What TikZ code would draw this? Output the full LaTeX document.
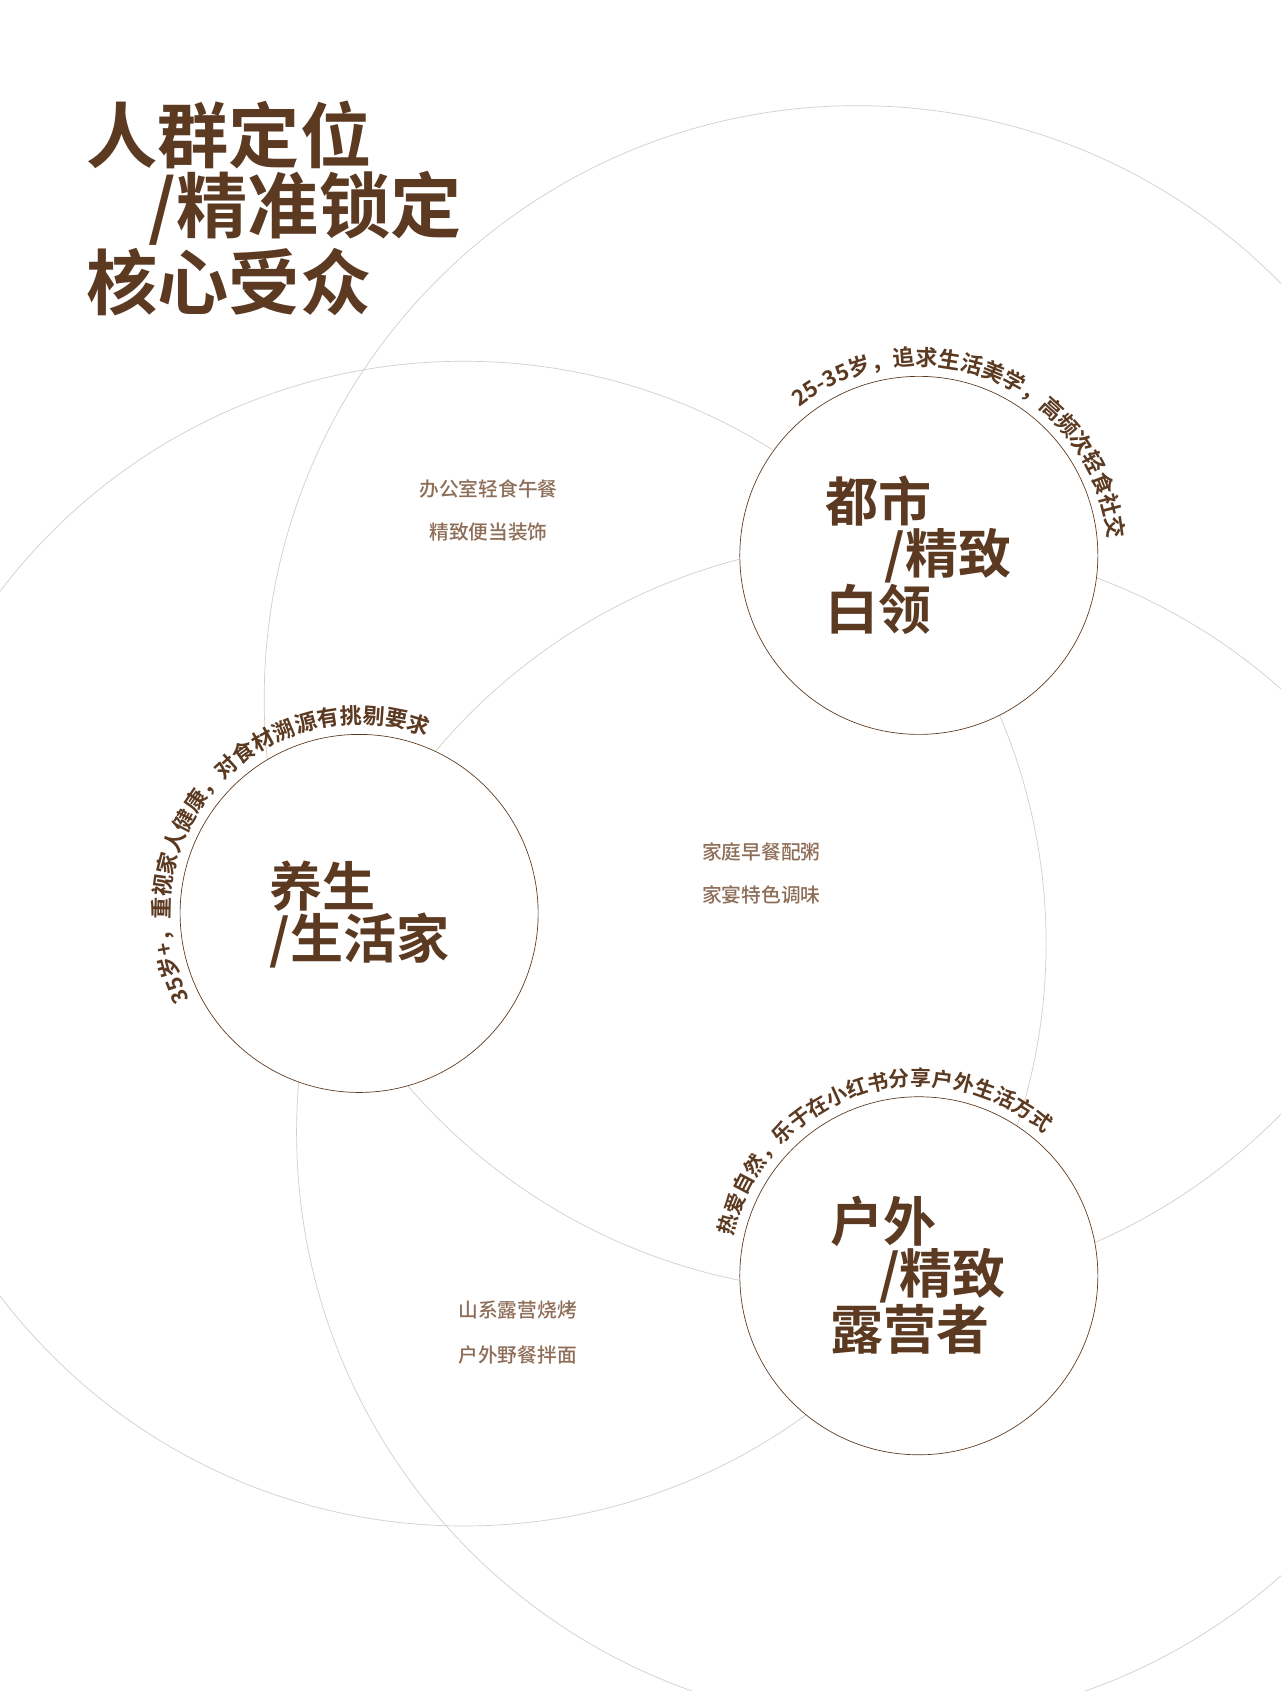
\documentclass[tikz,border=0pt]{standalone}
\usepackage{fontspec}
\newfontfamily\cjkb{Noto Sans CJK SC Bold}
\newfontfamily\cjkm{Noto Sans CJK SC Medium}
\usetikzlibrary{decorations.text}
\definecolor{dbrown}{HTML}{5C3A21}
\definecolor{lbrown}{HTML}{8E6E58}
\definecolor{lgray}{HTML}{D3CEC9}
\tikzset{
 bigc/.style={draw=lgray,line width=0.9pt},
 smallc/.style={draw=dbrown,fill=white,line width=0.9pt},
 title/.style={anchor=west,text=dbrown,font=\cjkb\fontsize{94}{100}\selectfont,inner sep=0},
 lab/.style={anchor=west,text=dbrown,font=\cjkb\fontsize{70}{72}\selectfont,inner sep=0},
 note/.style={text=lbrown,font=\cjkm\fontsize{26}{28}\selectfont,inner sep=0},
 arctext/.style={decorate,decoration={text along path,text format delimiters={|}{|},text color=dbrown,text align=left}}
}
\begin{document}
\begin{tikzpicture}[x=0.05cm,y=0.05cm]
\useasboundingbox[fill=white] (0,0) rectangle (1188,1568);
\begin{scope}
\clip (0,0) rectangle (1188,1568);
\draw[bigc] (795,920) circle (550);
\draw[bigc] (430,693) circle (540);
\draw[bigc] (824,518) circle (549);
\end{scope}
\coordinate (c1) at (852,1053);
\coordinate (c2) at (333,721);
\coordinate (c3) at (852,385);
\draw[smallc] (c1) circle (166);
\draw[smallc] (c2) circle (166);
\draw[smallc] (c3) circle (166);
% titles
\node[title] (t1) at (80,1443) {人群定位};
\node[title] (t2) at (138,1375) {/精准锁定};
\node[title] (t3) at (80,1306) {核心受众};
% labels
\node[lab] (a1) at (765,1103) {都市};
\node[lab] (a2) at (820,1053) {/精致};
\node[lab] (a3) at (765,1003) {白领};
\node[lab] (b1) at (250,746) {养生};
\node[lab] (b2) at (250,696) {/生活家};
\node[lab] (d1) at (770,435) {户外};
\node[lab] (d2) at (815,385) {/精致};
\node[lab] (d3) at (770,335) {露营者};
% notes
\node[note] (n1) at (453,1115) {办公室轻食午餐};
\node[note] (n2) at (453,1075) {精致便当装饰};
\node[note] (n3) at (706,778) {家庭早餐配粥};
\node[note] (n4) at (706,738) {家宴特色调味};
\node[note] (n5) at (480,353) {山系露营烧烤};
\node[note] (n6) at (480,312) {户外野餐拌面};
% arc texts
\path[arctext,decoration={text={|\cjkb\fontsize{29}{30}\selectfont|25-35岁，追求生活美学，高频次轻食社交}}]
  ([shift={(129:176)}]c1) arc (129:-12:176);
\path[arctext,decoration={text={|\cjkb\fontsize{29}{30}\selectfont|35岁+，重视家人健康，对食材溯源有挑剔要求}}]
  ([shift={(207:176)}]c2) arc (207:62:176);
\path[arctext,decoration={text={|\cjkb\fontsize{27.5}{30}\selectfont|热爱自然，乐于在小红书分享户外生活方式}}]
  ([shift={(168:176)}]c3) arc (168:45:176);
\end{tikzpicture}
\end{document}
